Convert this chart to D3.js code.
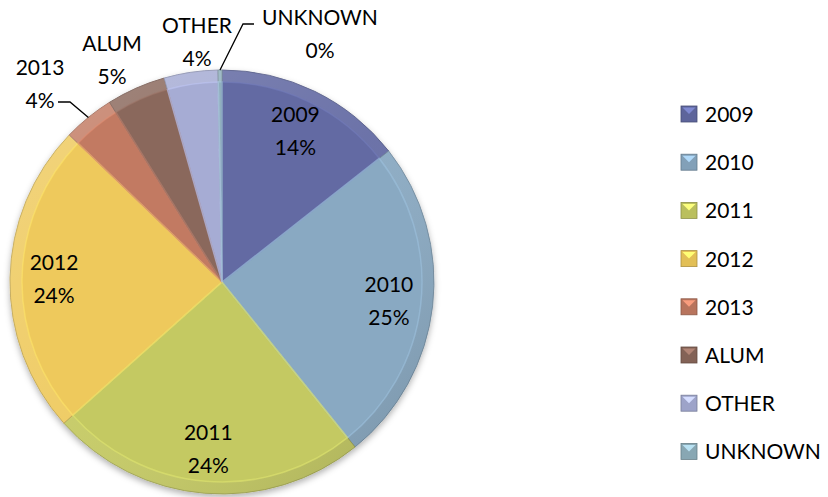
<!DOCTYPE html>
<html>
<head>
<meta charset="utf-8">
<script src="https://cdn.jsdelivr.net/npm/d3@7"></script>
<style>
  body { margin: 0; background: #fff; }
  svg { display: block; font-family: Lato, "Open Sans", sans-serif; }
</style>
</head>
<body>
<svg></svg>
<script>
'use strict';

// data
var categories = ['2009', '2010', '2011', '2012', '2013', 'ALUM', 'OTHER', 'UNKNOWN'];
var shares = [14.4, 24.8, 24.2, 23.8, 3.9, 4.5, 4.1, 0.3];
var colors = ['#636ba3', '#89a9c2', '#c4c962', '#eec95b', '#c27a62', '#8a675b', '#a6acd4', '#90b0bd'];
// which labels sit outside the pie
var outside = [false, false, false, false, true, true, true, true];

function render() {
    var w = 828;
    var h = 497;
    var d3 = window.d3;

    var cx = 222, cy = 282, r = 212;
    var f = d3.format('.0f');

    var svg = d3.select('svg').attr('width', w).attr('height', h);
    var defs = svg.append('defs');

    var shadow = defs.append('filter').attr('id', 'shadow')
        .attr('x', '-10%').attr('y', '-10%').attr('width', '120%').attr('height', '125%');
    shadow.append('feDropShadow').attr('dx', 0).attr('dy', 3)
        .attr('stdDeviation', 3).attr('flood-color', '#000').attr('flood-opacity', 0.3);

    // rim shading: lit from top-left, across the whole pie
    var rimGrad = defs.append('linearGradient').attr('id', 'rim')
        .attr('gradientUnits', 'userSpaceOnUse')
        .attr('x1', -r).attr('y1', -r).attr('x2', r).attr('y2', r);
    rimGrad.append('stop').attr('offset', '0%').attr('stop-color', '#fff').attr('stop-opacity', 0.22);
    rimGrad.append('stop').attr('offset', '50%').attr('stop-color', '#fff').attr('stop-opacity', 0.06);
    rimGrad.append('stop').attr('offset', '100%').attr('stop-color', '#000').attr('stop-opacity', 0.16);

    var pie = d3.pie().sort(null).value(function (d) { return d; });
    var arcs = pie(shares);

    var arc = d3.arc().innerRadius(0).outerRadius(r);
    var rimArc = d3.arc().innerRadius(r - 12).outerRadius(r);
    var innerArc = d3.arc().innerRadius(0).outerRadius(r - 12);
    var labelArc = d3.arc().innerRadius(168).outerRadius(168);

    var g = svg.append('g').attr('transform', 'translate(' + cx + ',' + cy + ')');

    var slices = g.append('g').attr('filter', 'url(#shadow)');
    slices.selectAll('.slice').data(arcs).enter().append('path')
        .attr('class', 'slice')
        .attr('d', arc)
        .attr('fill', function (d, i) { return colors[i]; })
        .attr('stroke', function (d, i) { return d3.color(colors[i]).darker(0.7); })
        .attr('stroke-width', 0.8);

    // bevel: shaded outer band and a soft light inner edge
    g.selectAll('.rim').data(arcs).enter().append('path')
        .attr('class', 'rim')
        .attr('d', rimArc)
        .attr('fill', 'url(#rim)');
    g.selectAll('.inner').data(arcs).enter().append('path')
        .attr('class', 'inner')
        .attr('d', innerArc)
        .attr('fill', 'none')
        .attr('stroke', function (d, i) { return d3.color(colors[i]).brighter(0.4); })
        .attr('stroke-opacity', 0.55)
        .attr('stroke-width', 1.5);

    // inside labels
    var inLabels = g.selectAll('.in-label').data(arcs.filter(function (d, i) { return !outside[i]; }))
        .enter().append('text')
        .attr('class', 'in-label')
        .attr('text-anchor', 'middle')
        .attr('font-size', 21)
        .attr('fill', '#000')
        .attr('transform', function (d) { return 'translate(' + labelArc.centroid(d) + ')'; });
    inLabels.append('tspan').attr('x', 0).attr('y', -9)
        .text(function (d) { return categories[d.index]; });
    inLabels.append('tspan').attr('x', 0).attr('y', 24)
        .text(function (d) { return f(d.value) + '%'; });

    // outside labels with their offsets from the pie centre
    var outPos = { 4: [-182, -198], 5: [-110, -222], 6: [-25, -240], 7: [98, -248] };
    var outLabels = g.selectAll('.out-label').data(arcs.filter(function (d, i) { return outside[i]; }))
        .enter().append('text')
        .attr('class', 'out-label')
        .attr('text-anchor', 'middle')
        .attr('font-size', 21)
        .attr('fill', '#000')
        .attr('transform', function (d) { return 'translate(' + outPos[d.index] + ')'; });
    outLabels.append('tspan').attr('x', 0).attr('y', -9)
        .text(function (d) { return categories[d.index]; });
    outLabels.append('tspan').attr('x', 0).attr('y', 24)
        .text(function (d) { return f(d.value) + '%'; });

    // leader lines for 2013 and UNKNOWN
    var rimPoint = function (d) {
        var a = (d.startAngle + d.endAngle) / 2;
        return [Math.sin(a) * r, -Math.cos(a) * r];
    };
    var leaders = [
        { d: arcs[4], elbow: [-152, -180], end: [-164, -180] },
        { d: arcs[7], elbow: [21, -258], end: [32, -258] }
    ];
    g.selectAll('.leader').data(leaders).enter().append('polyline')
        .attr('class', 'leader')
        .attr('points', function (l) { return [rimPoint(l.d), l.elbow, l.end].join(' '); })
        .attr('fill', 'none')
        .attr('stroke', '#000')
        .attr('stroke-width', 1.3);

    // legend
    var legend = svg.append('g').attr('transform', 'translate(681,106)');
    var item = legend.selectAll('.item').data(categories).enter().append('g')
        .attr('class', 'item')
        .attr('transform', function (d, i) { return 'translate(0,' + (i * 48.2) + ')'; });
    item.append('rect').attr('width', 16).attr('height', 16)
        .attr('fill', function (d, i) { return d3.color(colors[i]).darker(0.15); })
        .attr('stroke', function (d, i) { return d3.color(colors[i]).darker(0.9); })
        .attr('stroke-width', 0.8);
    item.append('path').attr('d', 'M1.5,1.5L14.5,1.5L8,8Z')
        .attr('fill', function (d, i) { return d3.color(colors[i]).brighter(0.7); });
    item.append('text').attr('x', 24).attr('y', 16)
        .attr('font-size', 21)
        .attr('fill', '#000')
        .text(function (d) { return d; });
}

render();
</script>
</body>
</html>
